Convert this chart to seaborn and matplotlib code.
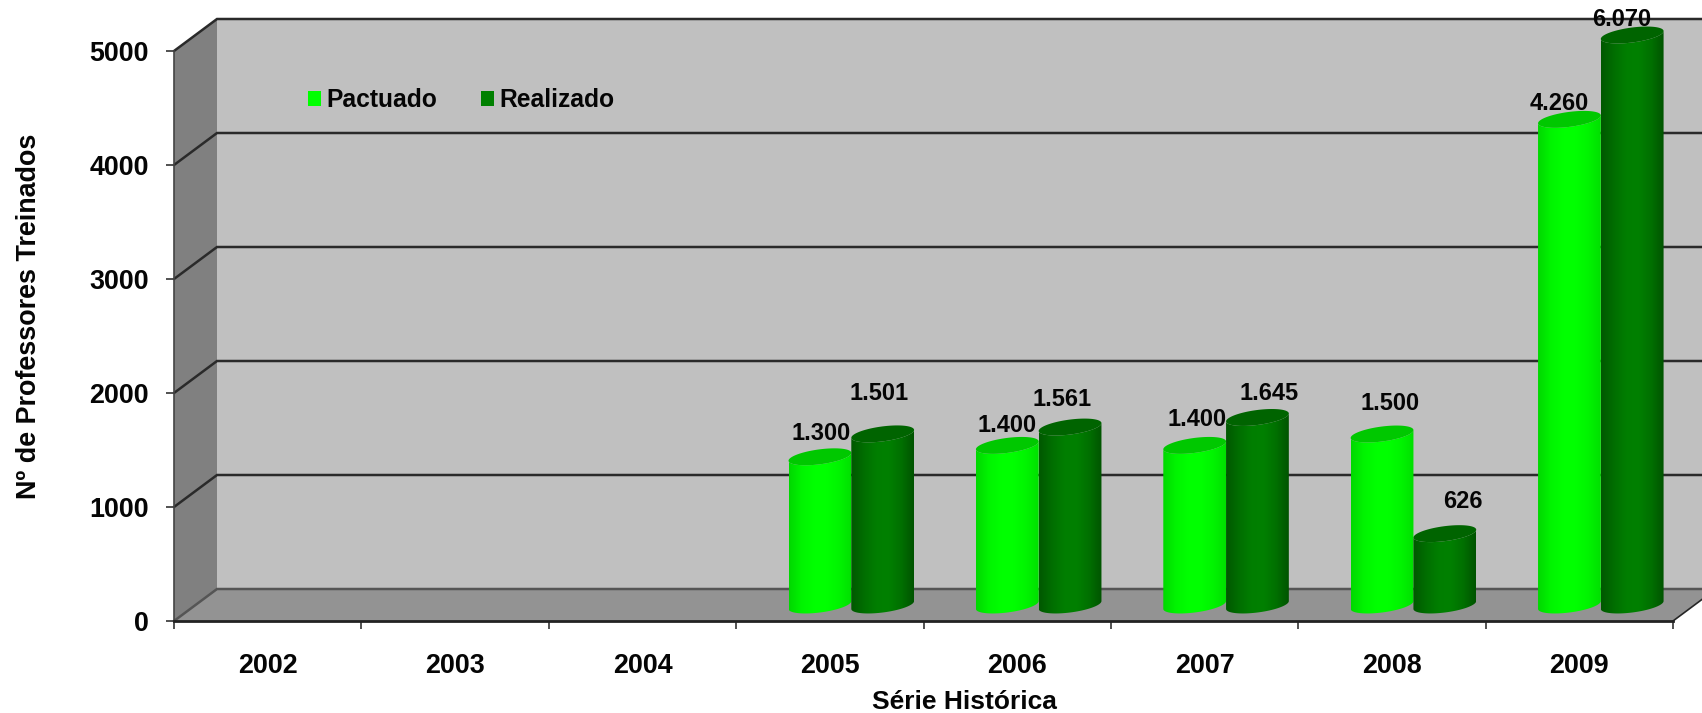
import matplotlib
matplotlib.use("Agg")

import matplotlib.pyplot as plt
import numpy as np
import pandas as pd
import seaborn as sns
from matplotlib.colors import LinearSegmentedColormap
from matplotlib.path import Path
from matplotlib.patches import Polygon

# ── Data ──────────────────────────────────────────────────────────────────────
years = ["2002", "2003", "2004", "2005", "2006", "2007", "2008", "2009"]
pactuado = [np.nan, np.nan, np.nan, 1300, 1400, 1400, 1500, 4260]
realizado = [np.nan, np.nan, np.nan, 1501, 1561, 1645, 626, 6070]
series_names = ["Pactuado", "Realizado"]
y_ticks = [0, 1000, 2000, 3000, 4000, 5000]
y_max = 5000

# hand placed in the original, so pixel centres here (same order as the values)
pactuado_label_pos = [(821, 434), (1007, 426), (1197, 420), (1390, 403), (1559, 103)]
realizado_label_pos = [(879, 393), (1062, 399), (1269, 393), (1463, 502), (1622, 20)]

W, H = 1702, 713
X0, X1, Y0, Y1 = 174, 1673, 621, 51  # front plane of the 3D box
DX, DY = 43, 32                      # box depth in pixels

sns.set_theme(style="white")
plt.rcParams["font.family"] = ["Liberation Sans", "DejaVu Sans"]
plt.rcParams["font.weight"] = "bold"
plt.rcParams["axes.labelweight"] = "bold"
plt.rcParams["text.color"] = "#050505"
plt.rcParams["axes.labelcolor"] = "#050505"
plt.rcParams["xtick.labelcolor"] = "#050505"
plt.rcParams["ytick.labelcolor"] = "#050505"

fig = plt.figure(figsize=(W / 100, H / 100), dpi=100)


def rect_px(x0, x1, y0, y1):
    return [x0 / W, 1 - y0 / H, (x1 - x0) / W, (y0 - y1) / H]


# ── Box walls, drawn in pixel space ───────────────────────────────────────────
px = fig.add_axes([0, 0, 1, 1], zorder=0)
px.set_xlim(0, W)
px.set_ylim(H, 0)
px.axis("off")
px.set_autoscale_on(False)

back_top, back_bot = Y1 - DY, Y0 - DY
px.add_patch(Polygon([(X0 + DX, back_top), (X1 + DX, back_top), (X1 + DX, back_bot), (X0 + DX, back_bot)],
                     fc="#c0c0c0", ec="none", zorder=1))
px.add_patch(Polygon([(X0, Y1), (X0 + DX, back_top), (X0 + DX, back_bot), (X0, Y0)],
                     fc="#808080", ec="none", zorder=1))
px.add_patch(Polygon([(X0, Y0), (X0 + DX, back_bot), (X1 + DX, back_bot), (X1, Y0)],
                     fc="#939393", ec="none", zorder=1))

unit = (Y0 - Y1) / y_max
for tick in y_ticks:
    fy = Y0 - tick * unit
    line_color = "#555555" if tick == 0 else "#2a2a2a"
    px.plot([X0, X0 + DX, X1 + DX], [fy, fy - DY, fy - DY], color=line_color,
            lw=1.8, solid_joinstyle="miter", zorder=2)
px.plot([X1, X1 + DX], [Y0, Y0 - DY], color="#262626", lw=1.2, zorder=2)

# ── Front axes: ticks and labels ──────────────────────────────────────────────
ax = fig.add_axes(rect_px(X0, X1, Y0, Y1), zorder=1)
ax.patch.set_alpha(0)
ax.set_xlim(-0.5, len(years) - 0.5)
ax.set_ylim(0, y_max)
ax.set_yticks(y_ticks)
ax.set_xticks(np.arange(len(years) + 1) - 0.5)
ax.set_xticklabels([])
ax.set_xticks(np.arange(len(years)), labels=years, minor=True)
ax.tick_params(axis="y", length=6, width=1.2, color="#333333", pad=12,
               labelsize=19.4, left=True)
ax.tick_params(axis="x", which="major", length=6, width=1.2, color="#333333", bottom=True)
ax.tick_params(axis="x", which="minor", length=0, pad=23, labelsize=19.4)
sns.despine(ax=ax)
ax.spines["left"].set_color("#444444")
ax.spines["left"].set_linewidth(1.2)
ax.spines["bottom"].set_color("#222222")
ax.spines["bottom"].set_linewidth(2)

ax.set_xlabel("Série Histórica", fontsize=19)
ax.xaxis.set_label_coords(964, 690, transform=px.transData)
ax.set_ylabel("Nº de Professores Treinados", fontsize=19.4)
ax.yaxis.set_label_coords(42, 316, transform=px.transData)

# ── Bars: seaborn lays them out on a plane halfway into the box ───────────────
ax_bar = fig.add_axes(rect_px(X0 + DX / 2, X1 + DX / 2, Y0 - DY / 2, Y1 - DY / 2), zorder=2)
ax_bar.patch.set_alpha(0)

df = pd.DataFrame({
    "ano": years * 2,
    "serie": [series_names[0]] * len(years) + [series_names[1]] * len(years),
    "valor": pactuado + realizado,
})
sns.barplot(data=df, x="ano", y="valor", hue="serie", order=years, hue_order=series_names,
            palette=["#00ff00", "#008000"], saturation=1, width=0.67, gap=0,
            errorbar=None, ax=ax_bar)
ax_bar.set_xlim(-0.5, len(years) - 0.5)
ax_bar.set_ylim(0, y_max)
ax_bar.axis("off")

sns.move_legend(ax_bar, "center left", bbox_to_anchor=(308, 100), bbox_transform=px.transData,
                ncol=2, frameon=False, title=None, fontsize=17.7, handlelength=0.54,
                handleheight=0.54, handletextpad=0.22, columnspacing=1.75, borderpad=0,
                borderaxespad=0)
for handle in ax_bar.get_legend().legend_handles:
    handle.set_edgecolor("none")

# ── Turn every seaborn bar into a shaded cylinder ─────────────────────────────
side_cmaps = [
    LinearSegmentedColormap.from_list("light", ["#00d800", "#00f400", "#00ff00", "#00ff00", "#00f400", "#00e000"]),
    LinearSegmentedColormap.from_list("dark", ["#005800", "#006e00", "#007e00", "#008000", "#007000", "#005400"]),
]
cap_colors = ["#00c800", "#006400"]
RY = 7.5     # half height of the ellipses
SHEAR = 0.125  # ellipses lean up to the right
to_px = ax_bar.transData + px.transData.inverted()
theta = np.linspace(0, np.pi, 60)


def half_ellipse(cx, cy, rx, lower):
    sign = 1 if lower else -1
    xs = cx - rx * np.cos(theta)
    ys = cy + sign * RY * np.sin(theta) + SHEAR * rx * np.cos(theta)
    return np.column_stack([xs, ys])


gradient = np.linspace(0, 1, 128).reshape(1, -1)
for container, cmap, cap in zip(ax_bar.containers, side_cmaps, cap_colors):
    for bar in container:
        height = bar.get_height()
        if not np.isfinite(height) or height == 0:
            bar.set_visible(False)
            continue
        top = min(height, y_max)
        (left, base), (right, roof) = to_px.transform(
            [(bar.get_x(), 0), (bar.get_x() + bar.get_width(), top)])
        cx, rx = (left + right) / 2, (right - left) / 2
        lower = half_ellipse(cx, base, rx, True)
        upper = half_ellipse(cx, roof, rx, True)[::-1]
        outline = Path(np.vstack([lower, upper, lower[:1]]), closed=True)
        im = px.imshow(gradient, cmap=cmap, aspect="auto", zorder=3,
                       extent=(left, right, base + 20, roof - 20))
        im.set_clip_path(outline, transform=px.transData)
        cap_pts = np.vstack([half_ellipse(cx, roof, rx, True), half_ellipse(cx, roof, rx, False)[::-1]])
        px.add_patch(Polygon(cap_pts, closed=True, fc=cap, ec="none", zorder=3))
        bar.set_visible(False)
px.set_xlim(0, W)
px.set_ylim(H, 0)

# ── Data labels ───────────────────────────────────────────────────────────────
for values, positions in [(pactuado, pactuado_label_pos), (realizado, realizado_label_pos)]:
    shown = [v for v in values if np.isfinite(v)]
    for value, (lx, ly) in zip(shown, positions):
        ax_bar.text(lx, ly, f"{value:,}".replace(",", "."), transform=px.transData,
                    ha="center", va="center", fontsize=17, clip_on=False)

fig.savefig("out.png", dpi=100)
